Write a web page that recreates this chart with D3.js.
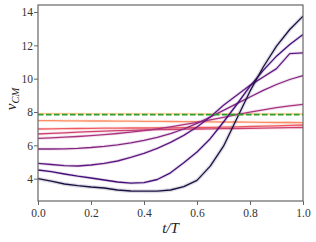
<!DOCTYPE html>
<html>
<head>
<meta charset="utf-8">
<script src="https://cdn.jsdelivr.net/npm/d3@7"></script>
<style>
  body { margin: 0; background: #fff; }
  svg text { font-family: "Liberation Serif", "DejaVu Serif", serif; }
</style>
</head>
<body>
<div id="chart-area"></div>
<script>
// time grid (t/T)
let tValues = [0, 0.05, 0.1, 0.15, 0.2, 0.25, 0.3, 0.35, 0.4, 0.45, 0.5,
  0.55, 0.6, 0.65, 0.7, 0.75, 0.8, 0.85, 0.9, 0.95, 1.0]

// v_CM curves, darkest first
let vDark = [4.00, 3.85, 3.68, 3.58, 3.50, 3.44, 3.32, 3.26, 3.25, 3.25, 3.32,
  3.52, 3.90, 4.75, 5.95, 7.60, 9.25, 10.70, 11.95, 12.95, 13.75]
let vPurple = [4.52, 4.42, 4.28, 4.15, 4.04, 3.92, 3.80, 3.73, 3.76, 3.95, 4.35,
  4.95, 5.60, 6.40, 7.40, 8.45, 9.55, 10.50, 11.35, 12.05, 12.65]
let vViolet = [4.92, 4.85, 4.78, 4.76, 4.82, 4.92, 5.06, 5.28, 5.52, 5.82, 6.18,
  6.60, 7.10, 7.70, 8.40, 9.00, 9.60, 10.10, 10.60, 11.50, 11.55]
let vPlum = [5.78, 5.78, 5.79, 5.82, 5.87, 5.94, 6.03, 6.15, 6.30, 6.48, 6.70,
  6.98, 7.32, 7.70, 8.10, 8.50, 8.90, 9.30, 9.65, 9.95, 10.18]
let vMagenta = [6.42, 6.45, 6.49, 6.53, 6.58, 6.64, 6.71, 6.79, 6.88, 6.99, 7.11,
  7.24, 7.38, 7.53, 7.68, 7.84, 7.99, 8.13, 8.26, 8.37, 8.46]
let vPink = [6.68, 6.72, 6.75, 6.79, 6.82, 6.85, 6.88, 6.90, 6.92, 6.94, 6.95,
  6.97, 6.98, 6.99, 7.00, 7.01, 7.02, 7.03, 7.05, 7.06, 7.07]
let vRed = [6.98, 6.99, 7.00, 7.01, 7.02, 7.03, 7.03, 7.04, 7.04, 7.05, 7.05,
  7.06, 7.07, 7.08, 7.09, 7.11, 7.13, 7.15, 7.17, 7.20, 7.22]
let vOrange = [7.48, 7.48, 7.47, 7.47, 7.46, 7.46, 7.45, 7.45, 7.44, 7.44, 7.43,
  7.42, 7.42, 7.41, 7.40, 7.40, 7.39, 7.38, 7.37, 7.37, 7.36]
let vPeach = [7.90, 7.90, 7.90, 7.90, 7.89, 7.89, 7.89, 7.89, 7.89, 7.89, 7.89,
  7.89, 7.88, 7.88, 7.88, 7.88, 7.88, 7.88, 7.88, 7.88, 7.88]

let seriesList = [vDark, vPurple, vViolet, vPlum, vMagenta, vPink, vRed, vOrange, vPeach]
let colorStops = [0.12, 0.22, 0.29, 0.38, 0.47, 0.56, 0.65, 0.76, 0.88]

// reference level (dashed green)
let refLevel = 7.84

let xTicks = [0, 0.2, 0.4, 0.6, 0.8, 1.0]
let yTicks = [4, 6, 8, 10, 12, 14]

let margin = { top: 5, right: 13, bottom: 41, left: 38 }
let canvasWidth = 316 - margin.left - margin.right
let canvasHeight = 242 - margin.top - margin.bottom

let svg = d3.select("#chart-area").append("svg")
  .attr("width", 316)
  .attr("height", 242)

let graphGroup = svg.append("g")
  .attr("transform", "translate(" + margin.left + ", " + margin.top + ")")

let x = d3.scaleLinear().domain([0, 1]).range([0, canvasWidth])
let y = d3.scaleLinear().domain([2.66, 14.42]).range([canvasHeight, 0])

let line = d3.line()
  .x((d, i) => x(tValues[i]))
  .y(d => y(d))

graphGroup.append("clipPath").attr("id", "clip")
  .append("rect").attr("width", canvasWidth).attr("height", canvasHeight)

let plot = graphGroup.append("g").attr("clip-path", "url(#clip)")

// draw lightest first so dark curves sit on top
seriesList.slice().reverse().forEach((vals, k) => {
  let idx = seriesList.length - 1 - k
  let col = d3.interpolateMagma(colorStops[idx])
  plot.append("path")
    .attr("d", line(vals))
    .attr("fill", "none")
    .attr("stroke", col)
    .attr("stroke-opacity", 0.14)
    .attr("stroke-width", idx == 0 ? 4 : 3.2)
  plot.append("path")
    .attr("d", line(vals))
    .attr("fill", "none")
    .attr("stroke", col)
    .attr("stroke-width", 1.3)
    .attr("stroke-linejoin", "round")
})

plot.append("line")
  .attr("x1", x(0)).attr("x2", x(1))
  .attr("y1", y(refLevel)).attr("y2", y(refLevel))
  .attr("stroke", "#2ca02c")
  .attr("stroke-width", 1.6)
  .attr("stroke-dasharray", "5.5,2.5")

// axes
let xAxisCall = d3.axisBottom(x).tickValues(xTicks).tickFormat(d3.format(".1f")).tickSize(4).tickSizeOuter(0)
let yAxisCall = d3.axisLeft(y).tickValues(yTicks).tickFormat(d3.format("d")).tickSize(4).tickSizeOuter(0)

let xAxisGroup = graphGroup.append("g")
  .attr("transform", "translate(0," + canvasHeight + ")")
  .call(xAxisCall)
let yAxisGroup = graphGroup.append("g").call(yAxisCall)

;[xAxisGroup, yAxisGroup].forEach(g => {
  g.select(".domain").remove()
  g.selectAll(".tick line").attr("stroke", "#666").attr("stroke-width", 1)
  g.selectAll(".tick text")
    .style("font-family", "'Liberation Serif', serif")
    .style("font-size", "11.5px")
    .attr("fill", "#333")
})
xAxisGroup.selectAll(".tick text").attr("dy", "0.95em").attr("y", 5)
yAxisGroup.selectAll(".tick text").attr("x", -5)

// frame
graphGroup.append("rect")
  .attr("width", canvasWidth)
  .attr("height", canvasHeight)
  .attr("fill", "none")
  .attr("stroke", "#666")
  .attr("stroke-width", 1.2)

// labels
graphGroup.append("text")
  .attr("x", canvasWidth / 2)
  .attr("y", canvasHeight + 32)
  .attr("text-anchor", "middle")
  .style("font-size", "15px")
  .style("font-style", "italic")
  .attr("fill", "#222")
  .text("t/T")

let yLabel = svg.append("text")
  .attr("transform", "translate(16, 99) rotate(-90)")
  .attr("text-anchor", "middle")
  .style("font-size", "15px")
  .style("font-style", "italic")
  .attr("fill", "#222")
yLabel.append("tspan").text("v")
yLabel.append("tspan").attr("dy", 3).style("font-size", "10.5px").text("CM")
</script>
</body>
</html>
